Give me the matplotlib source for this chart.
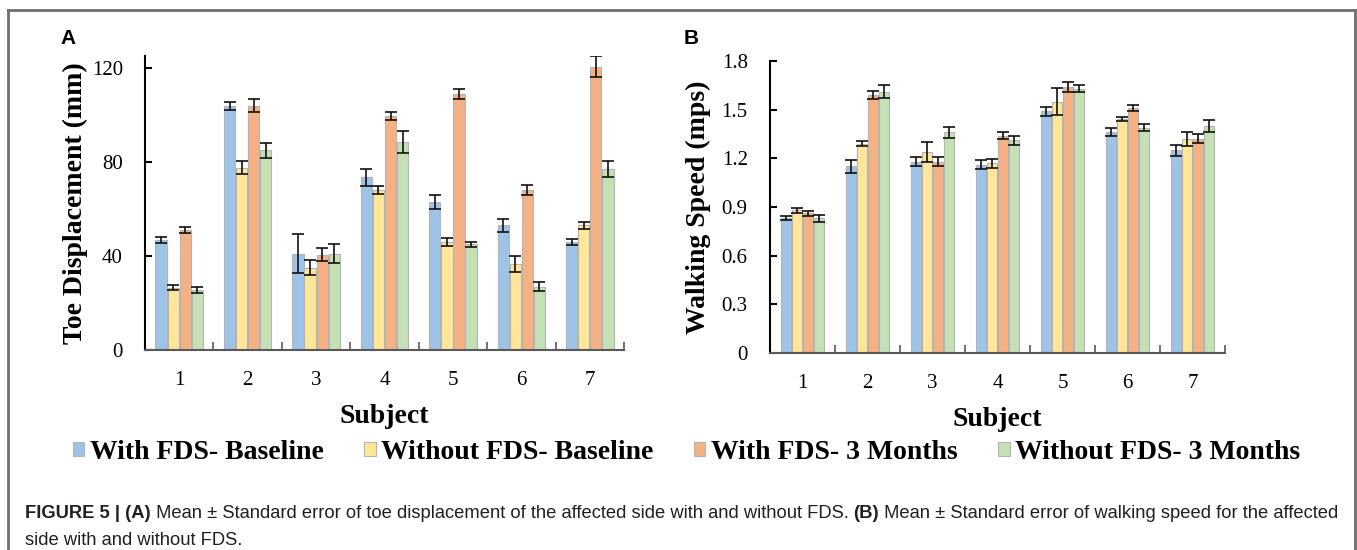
#=========================================================================
# plot.py - toe displacement / walking speed with and without FDS
#=========================================================================

import matplotlib
matplotlib.use('Agg')
import matplotlib.pyplot as plt
from matplotlib.patches import Patch
from matplotlib.lines import Line2D
import numpy as np

plt.rcParams['font.family'] = 'Liberation Serif'

#-------------------------------------------------------------------------
# Data
#-------------------------------------------------------------------------

subjects = ['1', '2', '3', '4', '5', '6', '7']

series = [
  'With FDS- Baseline',
  'Without FDS- Baseline',
  'With FDS- 3 Months',
  'Without FDS- 3 Months',
]

# Toe displacement (mm), mean and standard error

toe_with_base     = [47.0, 104.0, 41.0, 73.5, 63.0, 53.0, 46.0]
toe_without_base  = [26.5, 77.5, 35.0, 68.0, 46.0, 36.5, 53.0]
toe_with_3m       = [51.0, 104.0, 40.5, 99.5, 109.0, 68.0, 120.5]
toe_without_3m    = [25.5, 85.0, 41.0, 88.5, 45.0, 27.0, 77.0]

toe_with_base_se    = [1.3, 1.7, 8.3, 3.6, 2.8, 2.6, 1.3]
toe_without_base_se = [1.0, 2.8, 3.1, 1.7, 1.8, 3.3, 1.5]
toe_with_3m_se      = [1.4, 2.8, 2.7, 1.8, 2.2, 2.2, 4.5]
toe_without_3m_se   = [1.2, 3.3, 4.0, 4.6, 1.1, 1.8, 3.5]

# Walking speed (mps), mean and standard error

spd_with_base     = [0.83, 1.15, 1.18, 1.16, 1.49, 1.36, 1.25]
spd_without_base  = [0.88, 1.29, 1.24, 1.17, 1.55, 1.44, 1.32]
spd_with_3m       = [0.86, 1.59, 1.18, 1.34, 1.64, 1.51, 1.32]
spd_without_3m    = [0.83, 1.61, 1.36, 1.31, 1.63, 1.39, 1.40]

spd_with_base_se    = [0.012, 0.038, 0.027, 0.028, 0.027, 0.025, 0.033]
spd_without_base_se = [0.014, 0.014, 0.060, 0.028, 0.081, 0.012, 0.044]
spd_with_3m_se      = [0.014, 0.026, 0.027, 0.023, 0.029, 0.019, 0.028]
spd_without_3m_se   = [0.020, 0.041, 0.036, 0.028, 0.023, 0.022, 0.035]

toe_ticks = [0, 40, 80, 120]
spd_ticks = [0, 0.3, 0.6, 0.9, 1.2, 1.5, 1.8]
spd_tick_labels = ['0', '0.3', '0.6', '0.9', '1.2', '1.5', '1.8']

#-------------------------------------------------------------------------
# Style
#-------------------------------------------------------------------------

colors = ['#9DC3E6', '#FFE699', '#F4B183', '#C5E0B4']
edge   = '#b4b4b4'

W, H = 1357, 550
fig = plt.figure(figsize=(W/100.0, H/100.0), dpi=100)

bg = fig.add_axes([0, 0, 1, 1])
bg.set_xlim(0, W)
bg.set_ylim(H, 0)
bg.axis('off')

# frame around figure (open at the bottom)
for xs, ys in [([8, 8], [550, 10]), ([8, 1355], [10, 10]), ([1355, 1355], [10, 550])]:
  bg.add_line(Line2D(xs, ys, color='#6e6e6e', lw=2))

#-------------------------------------------------------------------------
# Panels
#-------------------------------------------------------------------------

def panel(rect, means, errs, ymax, ticks, tick_labels, ylabel, sp, bw, ypad):
  ax = fig.add_axes(rect)
  ind = np.arange(len(subjects))
  for i, (m, e) in enumerate(zip(means, errs)):
    ax.bar(ind + (i - 1.5)*sp, m, bw, color=colors[i], edgecolor=edge,
           linewidth=0.8, yerr=e, capsize=4.3,
           error_kw={'elinewidth': 1.2, 'capthick': 1.2, 'ecolor': '#111111'})
  ax.set_xlim(-0.5, len(subjects) - 0.5)
  ax.set_ylim(0, ymax)
  ax.set_yticks(ticks)
  ax.set_yticklabels(tick_labels)
  ax.set_xticks(ind)
  ax.set_xticklabels(subjects)
  ax.set_xticks(ind + 0.5, minor=True)
  ax.tick_params(axis='x', which='major', length=0, pad=15, labelsize=15)
  ax.tick_params(axis='x', which='minor', direction='in', length=6, width=1.2, color='#595959')
  ax.tick_params(axis='y', direction='in', length=5, width=1.5, pad=16, labelsize=15)
  ax.spines['top'].set_visible(False)
  ax.spines['right'].set_visible(False)
  ax.spines['left'].set_linewidth(1.5)
  ax.spines['bottom'].set_linewidth(1.5)
  ax.spines['bottom'].set_color('#595959')
  ax.set_ylabel(ylabel, fontsize=20, fontweight='bold', labelpad=ypad)
  ax.set_xlabel('Subject', fontsize=20, fontweight='bold', labelpad=10)
  return ax

axA = panel([0.1069, 0.3636, 0.3529, 0.5341],
            [toe_with_base, toe_without_base, toe_with_3m, toe_without_3m],
            [toe_with_base_se, toe_without_base_se, toe_with_3m_se, toe_without_3m_se],
            125, toe_ticks, [str(t) for t in toe_ticks],
            'Toe Displacement (mm)', 0.177, 0.165, 3)

axB = panel([0.5674, 0.3582, 0.3353, 0.5309],
            [spd_with_base, spd_without_base, spd_with_3m, spd_without_3m],
            [spd_with_base_se, spd_without_base_se, spd_with_3m_se, spd_without_3m_se],
            1.8, spd_ticks, spd_tick_labels,
            'Walking Speed (mps)', 0.17, 0.16, 8)

bg.text(60, 38, 'A', family='Liberation Sans', fontweight='bold', fontsize=15, va='center')
bg.text(684, 38, 'B', family='Liberation Sans', fontweight='bold', fontsize=15, va='center')

# Legend

handles = [Patch(facecolor=c, edgecolor=edge, linewidth=0.8) for c in colors]
fig.legend(handles, series, loc='center', bbox_to_anchor=(0.506, 0.178), ncol=4,
           frameon=False, prop={'size': 20, 'weight': 'bold'},
           handlelength=0.4, handleheight=0.4, handletextpad=0.2, columnspacing=1.47)

#-------------------------------------------------------------------------
# Caption
#-------------------------------------------------------------------------

cap = dict(family='Liberation Sans', fontsize=13.2, color='#231f20', va='bottom')
parts = [
  ('FIGURE 5 | (A)', 'bold'),
  (' Mean \u00b1 Standard error of toe displacement of the affected side with and without FDS. ', 'normal'),
  ('(B)', 'bold'),
  (' Mean \u00b1 Standard error of walking speed for the affected', 'normal'),
]
prev = bg.text(25, 522, parts[0][0], fontweight=parts[0][1], **cap)
for txt, wt in parts[1:]:
  prev = bg.annotate(txt, xy=(1, 0), xycoords=prev, fontweight=wt, **cap)
bg.text(25, 549, 'side with and without FDS.', **cap)

plt.savefig('out.png', dpi=100)
